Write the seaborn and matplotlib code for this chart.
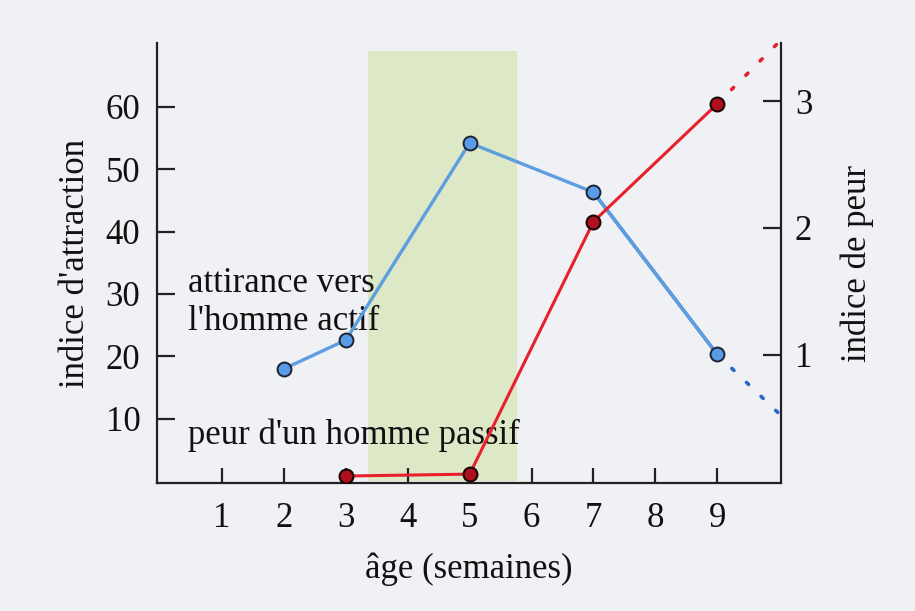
import matplotlib
matplotlib.use("Agg")
import matplotlib.pyplot as plt
import seaborn as sns
import pandas as pd

# data
weeks = [1, 2, 3, 4, 5, 6, 7, 8, 9]
attraction_age = [2, 3, 5, 7, 9]
attraction = [18.0, 22.6, 54.2, 46.3, 20.3]
attraction_trend_age = [9, 10]
attraction_trend = [20.3, 10.8]
fear_age = [3, 5, 7, 9]
fear = [0.04, 0.055, 2.05, 2.98]
fear_trend_age = [9, 10]
fear_trend = [2.98, 3.47]
left_ticks = [10, 20, 30, 40, 50, 60]
right_ticks = [1, 2, 3]
sensitive_period = (3.35, 5.76)

bg = "#eff1f4"
light_blue = "#5d9de0"
dark_blue = "#2a68c4"
red = "#e8202b"
fs = 25

sns.set_theme(style="white")
plt.rcParams["font.family"] = ["Liberation Serif", "DejaVu Serif"]

fig = plt.figure(figsize=(9.15, 6.11), dpi=100, facecolor=bg)
ax = fig.add_axes([0.1716, 0.2095, 0.682, 0.72])
ax.set_facecolor(bg)

# sensitive period band
ax.fill_between(list(sensitive_period), 0, 68.9, color="#dde8c6", lw=0, zorder=0)

attr_df = pd.DataFrame({"age": attraction_age, "val": attraction})
sns.lineplot(data=attr_df, x="age", y="val", ax=ax, color=light_blue, lw=2.4,
             marker="o", markersize=10, markerfacecolor="#5a9be6",
             markeredgecolor="#1c2230", markeredgewidth=1.4, zorder=4)
sns.lineplot(x=attraction_age[-2:], y=attraction[-2:], ax=ax, color=dark_blue,
             lw=2.4, zorder=3)
sns.lineplot(x=attraction_trend_age, y=attraction_trend, ax=ax, color=dark_blue,
             lw=2.6, linestyle=(0, (0.8, 4.8)), dash_capstyle="round", zorder=3)

ax.set_xlim(-0.05, 10.03)
ax.set_ylim(-0.3, 70.2)
ax.set_xticks(weeks)
ax.set_yticks(left_ticks)
ax.tick_params(axis="x", direction="in", length=11, width=1.6, color="#222",
               bottom=True, pad=14, labelsize=fs, labelcolor="#111")
ax.tick_params(axis="y", direction="in", length=13, width=1.6, color="#222",
               left=True, pad=12, labelsize=fs, labelcolor="#111")
ax.set_xlabel("âge (semaines)", fontsize=fs, color="#111", labelpad=12)
ax.set_ylabel("indice d'attraction", fontsize=fs, color="#111", labelpad=10)
for side in ["left", "bottom"]:
    ax.spines[side].set_color("#222")
    ax.spines[side].set_linewidth(1.6)
ax.spines["top"].set_visible(False)
ax.spines["right"].set_visible(False)

ax2 = ax.twinx()
fear_df = pd.DataFrame({"age": fear_age, "val": fear})
sns.lineplot(data=fear_df, x="age", y="val", ax=ax2, color=red, lw=2.2,
             marker="o", markersize=10, markerfacecolor="#b0101d",
             markeredgecolor="#1a0505", markeredgewidth=1.5, zorder=4)
sns.lineplot(x=fear_trend_age, y=fear_trend, ax=ax2, color=red, lw=2.6,
             linestyle=(0, (0.8, 4.8)), dash_capstyle="round", zorder=3)
ax2.set_ylim(-0.015, 3.46)
ax2.set_yticks(right_ticks)
ax2.tick_params(axis="y", direction="in", length=13, width=1.6, color="#222",
                right=True, pad=10, labelsize=fs, labelcolor="#111")
ax2.set_ylabel("indice de peur", fontsize=fs, color="#111", labelpad=20)
ax2.spines["right"].set_color("#222")
ax2.spines["right"].set_linewidth(1.6)
for side in ["top", "left", "bottom"]:
    ax2.spines[side].set_visible(False)

ax.text(0.45, 28.6, "attirance vers\nl'homme actif", fontsize=fs, color="#111",
        va="center", ha="left", linespacing=1.2)
ax.text(0.45, 7.4, "peur d'un homme passif", fontsize=fs, color="#111",
        va="center", ha="left", zorder=5)

fig.savefig("out.png", dpi=100, facecolor=bg)
